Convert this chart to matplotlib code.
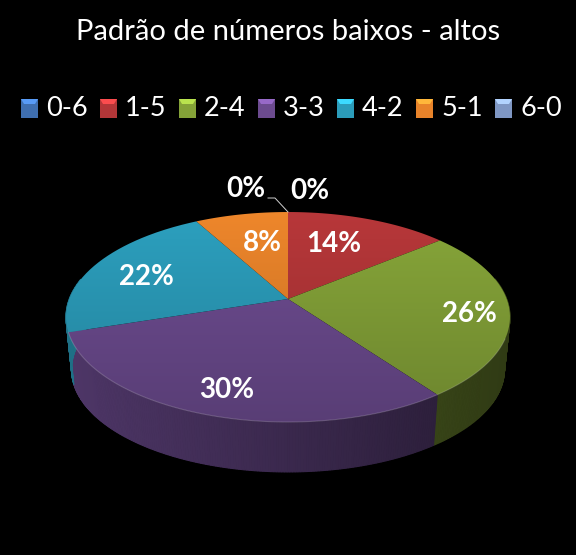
import numpy as np
import matplotlib
matplotlib.use('Agg')
import matplotlib.pyplot as plt
from matplotlib.patches import PathPatch, Polygon, Rectangle
from matplotlib.path import Path
from matplotlib.colors import to_rgb

title = 'Padrão de números baixos - altos'
categories = ['0-6', '1-5', '2-4', '3-3', '4-2', '5-1', '6-0']
values = [0, 14, 26, 30, 22, 8, 0]
labels = ['0%', '14%', '26%', '30%', '22%', '8%', '0%']

colors = ['#3f6fb0', '#b33638', '#84a238', '#6c4b8f', '#2b9cba', '#e8832a', '#7f97c4']
label_xy = [(310, 191), (334, 244), (469, 314), (227, 390), (146, 277), (262, 243), (246, 189)]

plt.rcParams['font.family'] = ['Lato', 'DejaVu Sans']

# pie geometry, in pixels: the tilted disc is a perspective view of a circle
cx, cy = 288, 299
a, b, k = 218.7, 101.9, 0.1715
depth = 53
shrink = 0.975


def project(ang, r=1.0, scale=1.0, dy=0):
    x = r * np.sin(ang)
    y = r * np.cos(ang)
    w = 1 + k * y
    return cx + scale * a * x / w, cy + dy - scale * b * y / w


def shade(color, f):
    return np.clip(np.array(to_rgb(color)) * f, 0, 1)


fig = plt.figure(figsize=(5.76, 5.55), dpi=100, facecolor='black')
ax = fig.add_axes([0, 0, 1, 1])
ax.set_facecolor('black')
ax.axis('off')

edges = np.cumsum([0] + values) / sum(values) * 2 * np.pi

# side wall first, the top face hides the back part of it
for i, v in enumerate(values):
    if v == 0:
        continue
    angs = np.linspace(edges[i], edges[i + 1], max(2, v * 6))
    for a0, a1 in zip(angs[:-1], angs[1:]):
        if np.cos((a0 + a1) / 2) > 0.2:
            continue
        x0, y0 = project(a0)
        x1, y1 = project(a1)
        x2, y2 = project(a1, scale=shrink, dy=depth)
        x3, y3 = project(a0, scale=shrink, dy=depth)
        f = 0.72 - (x0 - 66) / 444 * 0.36
        ax.add_patch(Polygon([(x0, y0), (x1, y1), (x2, y2), (x3, y3)], closed=True,
                             facecolor=shade(colors[i], f), edgecolor=shade(colors[i], f), lw=0.8))

# top face, one vertical gradient per slice
grad = np.linspace(1.03, 0.82, 256).reshape(-1, 1, 1)
for i, v in enumerate(values):
    if v == 0:
        continue
    angs = np.linspace(edges[i], edges[i + 1], max(2, v * 6))
    xs, ys = project(angs)
    verts = [(cx, cy)] + list(zip(xs, ys)) + [(cx, cy)]
    patch = PathPatch(Path(verts), facecolor='none', edgecolor='none')
    ax.add_patch(patch)
    img = np.clip(grad * np.array(to_rgb(colors[i])).reshape(1, 1, 3), 0, 1)
    im = ax.imshow(img, extent=(60, 516, 425, 208), aspect='auto', zorder=2, interpolation='bilinear')
    im.set_clip_path(patch)

# light rim along the front edge
rim = np.linspace(np.pi * 0.62, np.pi * 1.4, 100)
rx, ry = project(rim)
ax.plot(rx, ry, color='white', alpha=0.18, lw=0.8, zorder=3)

# leader line of the first 0% label
ax.plot([268, 275, 288], [198, 198, 212], color='#d0d0d0', lw=0.7, zorder=3)

for (x, y), s in zip(label_xy, labels):
    ax.text(x, y, s, color='white', fontsize=20, fontweight='bold', ha='center', va='center', zorder=4)

ax.text(288, 32, title, color='white', fontsize=21, ha='center', va='center')

# legend
for i, cat in enumerate(categories):
    x0 = 21 + i * 79
    ax.add_patch(Rectangle((x0, 99), 17, 19, facecolor=colors[i], edgecolor='none', zorder=2))
    ax.add_patch(Polygon([(x0, 99), (x0 + 17, 99), (x0 + 14, 104), (x0 + 3, 104)], closed=True,
                         facecolor=shade(colors[i], 1.4), edgecolor='none', zorder=3))
    ax.text(x0 + 25, 109, cat, color='white', fontsize=19.5, ha='left', va='center')

ax.set_xlim(0, 576)
ax.set_ylim(555, 0)
fig.savefig('out.png', dpi=100, facecolor='black')
